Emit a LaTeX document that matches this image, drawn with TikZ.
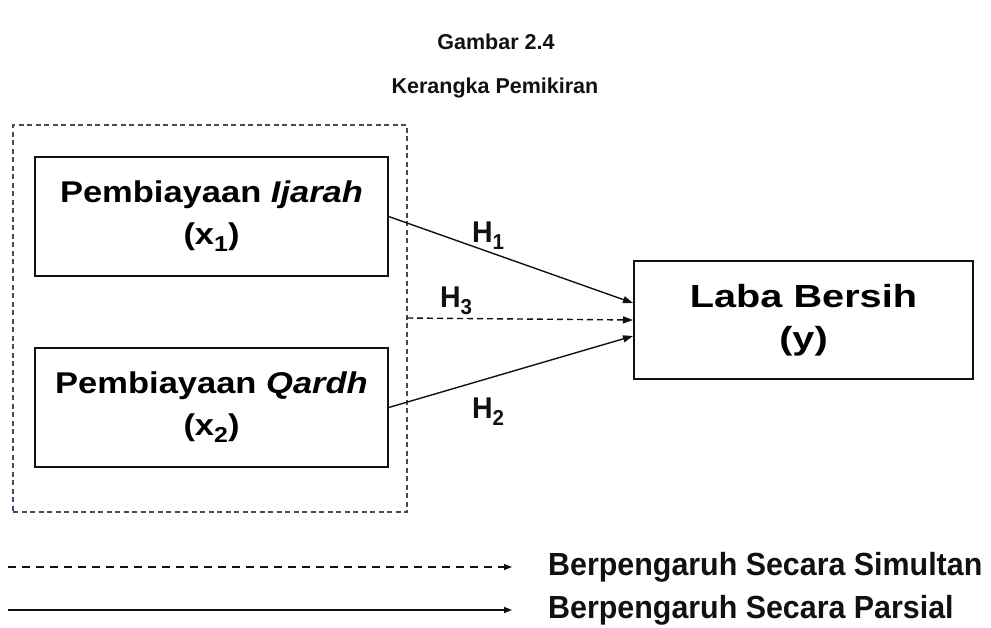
\documentclass[tikz,border=0pt]{standalone}
\usepackage{fontspec}
\usepackage{graphicx}
\setmainfont{Liberation Sans}
\newfontfamily\widefont[FakeStretch=1.15]{Liberation Sans}
\newfontfamily\widerfont[FakeStretch=1.24]{Liberation Sans}
\newfontfamily\legfont[FakeStretch=0.95]{Liberation Sans}
\newfontfamily\hfont[FakeStretch=0.95]{Liberation Sans}
\usetikzlibrary{arrows.meta}
\definecolor{dashblue}{HTML}{3E4C66}
\definecolor{ink}{HTML}{111111}
\newcommand\mysub[1]{\raisebox{-0.24em}{\scalebox{0.72}{#1}}}
\begin{document}
\begin{tikzpicture}[x=1pt,y=-1pt,
  box/.style={draw=ink, line width=1.4pt, inner sep=0pt, align=center,
    font=\widefont\bfseries\fontsize{30}{42}\selectfont},
  titletext/.style={font=\bfseries\fontsize{21.5}{24}\selectfont, text=ink},
  hlabel/.style={font=\hfont\bfseries\fontsize{30}{32}\selectfont, text=ink, inner sep=0pt},
  legtext/.style={font=\legfont\bfseries\fontsize{32}{34}\selectfont, text=ink, anchor=west, inner sep=0pt},
  conn/.style={draw=ink, line width=1.4pt, -{Triangle[length=10pt,width=7pt]}},
  dconn/.style={conn, dash pattern=on 6pt off 4pt},
  legconn/.style={draw=ink, line width=1.4pt, -{Triangle[length=8pt,width=6pt]}},
  legdconn/.style={legconn, dash pattern=on 8pt off 6pt},
  groupbox/.style={draw=dashblue, line width=1.4pt, dash pattern=on 5pt off 3.5pt}
]
\useasboundingbox (0,0) rectangle (991,627);

% titles
\node[titletext] (t1) at (496,42) {Gambar 2.4};
\node[titletext] (t2) at (495,88) {Kerangka Pemikiran};

% dashed group box
\node[groupbox, minimum width=394pt, minimum height=387pt, inner sep=0pt] (grp) at (210,318.5) {};

% boxes
\node[box, minimum width=353pt, minimum height=119pt] (b1) at (211.5,216.5)
  {Pembiayaan \textit{Ijarah}\\(x\mysub{1})};
\node[box, minimum width=353pt, minimum height=119pt] (b2) at (211.5,407.5)
  {Pembiayaan \textit{Qardh}\\(x\mysub{2})};
\node[box, minimum width=339pt, minimum height=118pt,
  font=\widerfont\bfseries\fontsize{32}{42}\selectfont] (b3) at (803.5,320)
  {Laba Bersih\\(y)};

% connector end points
\coordinate (e1) at (633,303);
\coordinate (e3) at (633,320);
\coordinate (e2) at (633,336);
\coordinate (s3) at (407,318);

\draw[conn] (b1.east) -- (e1);
\draw[dconn] (s3) -- (e3);
\draw[conn] (b2.east) -- (e2);

% labels
\node[hlabel] (h1) at (488,236) {H\mysub{1}};
\node[hlabel] (h3) at (456,301) {H\mysub{3}};
\node[hlabel] (h2) at (488,412) {H\mysub{2}};

% legend
\coordinate (la) at (8,567);
\coordinate (lb) at (512,567);
\coordinate (lc) at (8,610);
\coordinate (ld) at (512,610);
\draw[legdconn] (la) -- (lb);
\draw[legconn] (lc) -- (ld);
\node[legtext] (lt1) at (548,567) {Berpengaruh Secara Simultan};
\node[legtext] (lt2) at (548,610) {Berpengaruh Secara Parsial};
\end{tikzpicture}
\end{document}
